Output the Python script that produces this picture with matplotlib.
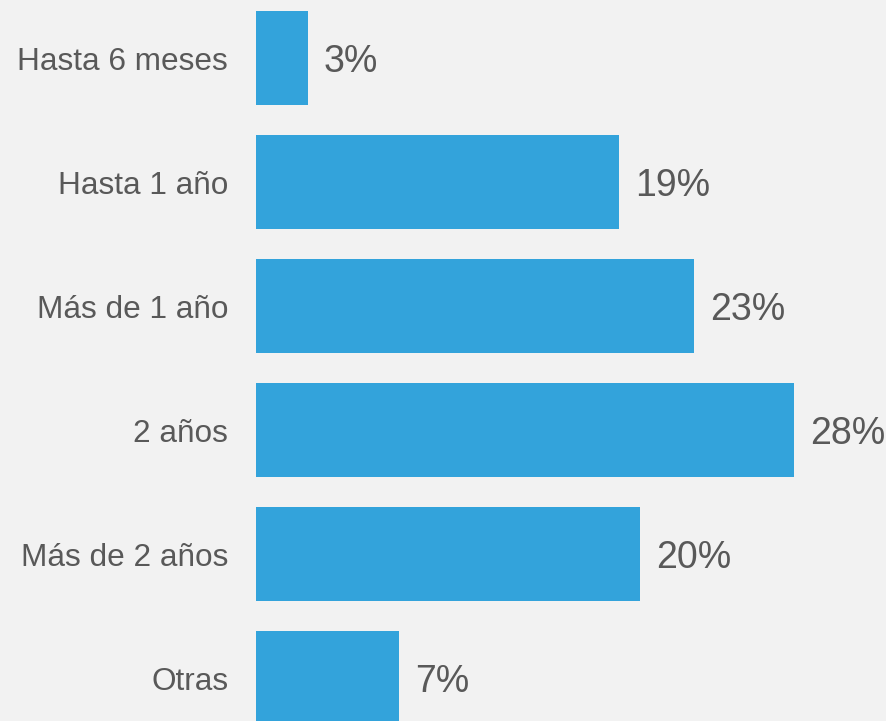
import matplotlib.pyplot as plt
from matplotlib import font_manager as fm

categories = ['Hasta 6 meses', 'Hasta 1 año', 'Más de 1 año', '2 años', 'Más de 2 años', 'Otras']
values = [2.7, 18.9, 22.8, 28.0, 20.0, 7.45]

bar_color = '#33a3db'
text_color = '#595959'
bg = '#f2f2f2'

# pick the regular Liberation Sans file (not the Narrow one)
paths = [p for p in fm.findSystemFonts() if p.endswith('LiberationSans-Regular.ttf')]
if paths:
    fm.fontManager.addfont(paths[0])
    fam = fm.FontProperties(fname=paths[0]).get_name()
else:
    fam = 'DejaVu Sans'
plt.rcParams['font.family'] = [fam, 'DejaVu Sans']

fig = plt.figure(figsize=(8.87, 7.21), dpi=100, facecolor=bg)
ax = fig.add_axes([256 / 887, 0, (887 - 256) / 887, 1])
ax.set_facecolor(bg)

ypos = list(range(len(categories)))
ax.barh(ypos, values, height=0.76, color=bar_color)

px_per_unit = 538 / 28.0
ax.set_xlim(0, 631 / px_per_unit)
ax.set_ylim((721 - 58) / 124, -58 / 124)

for y, v in zip(ypos, values):
    ax.annotate(f'{v:.0f}%', xy=(v, y), xytext=(16, -4), textcoords='offset pixels',
                va='center', ha='left', fontsize=27, color=text_color)

ax.set_yticks(ypos)
ax.set_yticklabels(categories, fontsize=22.7, color=text_color)
ax.tick_params(axis='y', length=0, pad=20)
ax.set_xticks([])
for s in ax.spines.values():
    s.set_visible(False)

fig.savefig('out.png', dpi=100, facecolor=bg)
